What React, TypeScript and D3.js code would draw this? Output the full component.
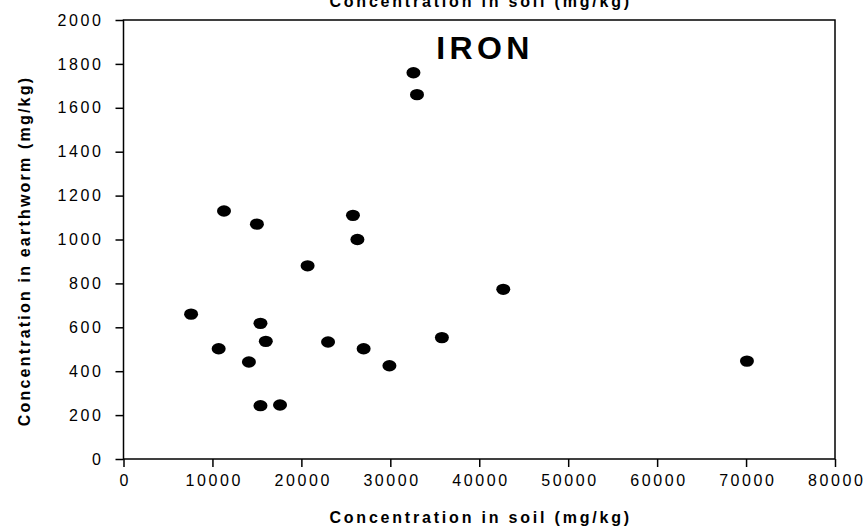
import React, { useEffect, useRef } from 'react';
import * as d3 from 'd3';

// soil concentration (mg/kg) for each sample
const soilFe = [
  32600, 33000, 11300, 15000, 25800, 26300, 20700, 7600, 15400, 16000,
  10700, 14100, 23000, 27000, 15400, 17600, 42700, 35800, 29900, 70100,
];
// earthworm concentration (mg/kg), same order
const wormFe = [
  1760, 1660, 1130, 1070, 1110, 1000, 880, 660, 618, 536,
  502, 442, 533, 502, 243, 246, 773, 553, 425, 446,
];
const xTicks = [0, 10000, 20000, 30000, 40000, 50000, 60000, 70000, 80000];
const yTicks = [0, 200, 400, 600, 800, 1000, 1200, 1400, 1600, 1800, 2000];

const chartLabel = 'IRON';
const xTitle = 'Concentration in soil (mg/kg)';
const yTitle = 'Concentration in earthworm (mg/kg)';

const App = () => {
  const svgRef = useRef<SVGSVGElement>(null);

  useEffect(() => {
    const width = 865;
    const height = 529;
    const margin = { top: 20, right: 30, bottom: 70, left: 123.5 };
    const font = 'Arial, "Liberation Sans", sans-serif';

    const svg = d3.select(svgRef.current);
    svg.selectAll('*').remove();
    svg.attr('width', width).attr('height', height);

    const x = d3.scaleLinear().domain([0, 80000]).range([margin.left, 835]);
    const y = d3.scaleLinear().domain([0, 2000]).range([459, margin.top]);

    // frame
    svg.append('rect')
      .attr('x', x(0)).attr('y', y(2000))
      .attr('width', x(80000) - x(0)).attr('height', y(0) - y(2000))
      .attr('fill', 'none').attr('stroke', '#000').attr('stroke-width', 1.5);

    const xAxis = svg.append('g')
      .attr('transform', `translate(0,${y(0)})`)
      .call(d3.axisBottom(x).tickValues(xTicks).tickSize(8).tickPadding(8).tickFormat(d3.format('d')));
    const yAxis = svg.append('g')
      .attr('transform', `translate(${x(0)},0)`)
      .call(d3.axisLeft(y).tickValues(yTicks).tickSize(8).tickPadding(12).tickFormat(d3.format('d')));

    [xAxis, yAxis].forEach((g) => {
      g.select('.domain').remove();
      g.selectAll('line').attr('stroke', '#000').attr('stroke-width', 1.5);
      g.selectAll('text')
        .attr('fill', '#000')
        .style('font-family', font)
        .style('font-size', '16px')
        .style('letter-spacing', '2.6px');
    });
    xAxis.selectAll('text').attr('dx', '1.3px');

    // points
    svg.append('g')
      .selectAll('ellipse')
      .data(soilFe.map((v, i) => [v, wormFe[i]]))
      .join('ellipse')
      .attr('cx', (d) => x(d[0]))
      .attr('cy', (d) => y(d[1]))
      .attr('rx', 7)
      .attr('ry', 5.7)
      .attr('fill', '#000');

    // label in plot
    svg.append('text')
      .attr('x', 485).attr('y', 59)
      .attr('text-anchor', 'middle')
      .style('font-family', font).style('font-weight', 'bold')
      .style('font-size', '32px').style('letter-spacing', '4.4px')
      .text(chartLabel);

    const midX = (x(0) + x(80000)) / 2;
    const titleStyle = (t: any) => t
      .attr('text-anchor', 'middle')
      .style('font-family', font).style('font-weight', 'bold')
      .style('font-size', '16px').style('letter-spacing', '2.8px');

    // top title (clipped by the page edge)
    svg.append('text').attr('x', midX + 1.4).attr('y', 7).call(titleStyle).text(xTitle);
    // bottom title
    svg.append('text').attr('x', midX + 1.4).attr('y', 523).call(titleStyle).text(xTitle);
    // y title
    svg.append('text')
      .attr('transform', `translate(30,251) rotate(-90)`)
      .call(titleStyle)
      .style('letter-spacing', '2.2px')
      .text(yTitle);
  }, []);

  return (
    <svg ref={svgRef} style={{ position: 'absolute', left: 0, top: 0, background: '#fff' }} />
  );
};

export default App;
